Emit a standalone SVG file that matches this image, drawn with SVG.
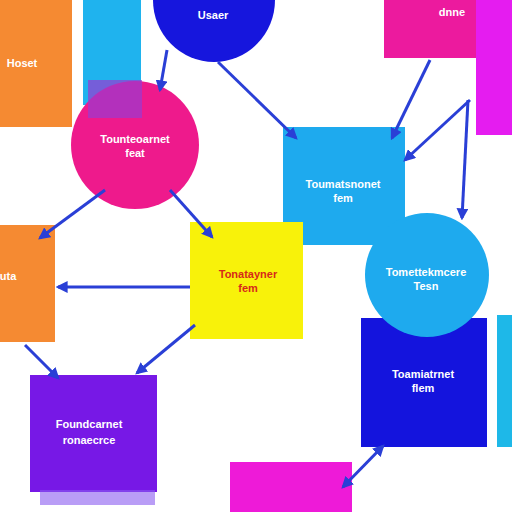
<svg xmlns="http://www.w3.org/2000/svg" width="512" height="512" viewBox="0 0 512 512">
<style>
.t{font-family:"Liberation Sans",Arial,sans-serif;font-size:11px;font-weight:bold;fill:#fff;text-anchor:middle}
.e{stroke:#2a3fd6;stroke-width:3;fill:none}
</style>
<defs>
<marker id="a" viewBox="0 0 10 10" refX="8" refY="5" markerWidth="4" markerHeight="4" orient="auto-start-reverse"><path d="M0,0 L10,5 L0,10 z" fill="#2a3fd6"/></marker>
</defs>
<rect width="512" height="512" fill="#ffffff"/>
<g id="n-hoset"><rect x="0" y="0" width="72" height="127" fill="#f58a32"/><text class="t" x="22" y="67">Hoset</text></g>
<g id="n-cyanstrip"><rect x="83" y="0" width="58" height="105" fill="#1fb3ee"/></g>
<g id="n-dnne"><rect x="476" y="0" width="36" height="135" fill="#e51cf0"/><rect x="384" y="0" width="92" height="58" fill="#ec1a9e"/><text class="t" x="452" y="16">dnne</text></g>
<g id="n-usaer"><ellipse cx="214" cy="0" rx="61" ry="62" fill="#1616dd"/><text class="t" x="213" y="19">Usaer</text></g>
<g id="n-feat"><circle cx="135" cy="145" r="64" fill="#ee1a8c"/><rect x="88" y="80" width="54" height="38" fill="#9a3ad0" opacity="0.7"/><text class="t" x="135" y="143">Tounteoarnet</text><text class="t" x="135" y="157">feat</text></g>
<g id="n-fem1"><rect x="283" y="127" width="122" height="118" fill="#1eaaee"/><text class="t" x="343" y="188">Toumatsnonet</text><text class="t" x="343" y="202">fem</text></g>
<g id="n-fem2"><rect x="190" y="222" width="113" height="117" fill="#f8f20a"/><text class="t" x="248" y="278" style="fill:#d62a1a">Tonatayner</text><text class="t" x="248" y="292" style="fill:#d62a1a">fem</text></g>
<g id="n-flem"><rect x="361" y="318" width="126" height="129" fill="#1414dd"/><text class="t" x="423" y="378">Toamiatrnet</text><text class="t" x="423" y="392">flem</text></g>
<g id="n-tesn"><circle cx="427" cy="275" r="62" fill="#1eaaee"/><text class="t" x="426" y="276">Tomettekmcere</text><text class="t" x="426" y="290">Tesn</text></g>
<g id="n-cyanright"><rect x="497" y="315" width="15" height="132" fill="#1eb8e8"/></g>
<g id="n-uta"><rect x="0" y="225" width="55" height="117" fill="#f58a32"/><text class="t" x="8" y="280">uta</text></g>
<g id="n-purple"><rect x="30" y="375" width="127" height="117" fill="#7718e6"/><rect x="40" y="490" width="115" height="15" fill="#8b5cf0" opacity="0.6"/><text class="t" x="89" y="428">Foundcarnet</text><text class="t" x="89" y="444">ronaecrce</text></g>
<g id="n-magenta"><rect x="230" y="462" width="122" height="50" fill="#ee1ad8"/></g>
<g id="connectors">
<line class="e" x1="167" y1="50" x2="160" y2="90" marker-end="url(#a)"/>
<line class="e" x1="218" y1="62" x2="296" y2="138" marker-end="url(#a)"/>
<line class="e" x1="430" y1="60" x2="392" y2="138" marker-end="url(#a)"/>
<line class="e" x1="470" y1="100" x2="405" y2="160" marker-end="url(#a)"/>
<line class="e" x1="468" y1="100" x2="462" y2="218" marker-end="url(#a)"/>
<line class="e" x1="105" y1="190" x2="40" y2="238" marker-end="url(#a)"/>
<line class="e" x1="170" y1="190" x2="212" y2="237" marker-end="url(#a)"/>
<line class="e" x1="190" y1="287" x2="58" y2="287" marker-end="url(#a)"/>
<line class="e" x1="195" y1="325" x2="137" y2="373" marker-end="url(#a)"/>
<line class="e" x1="25" y1="345" x2="58" y2="378" marker-end="url(#a)"/>
<line class="e" x1="383" y1="446" x2="343" y2="487" marker-start="url(#a)" marker-end="url(#a)"/>
</g>
</svg>
